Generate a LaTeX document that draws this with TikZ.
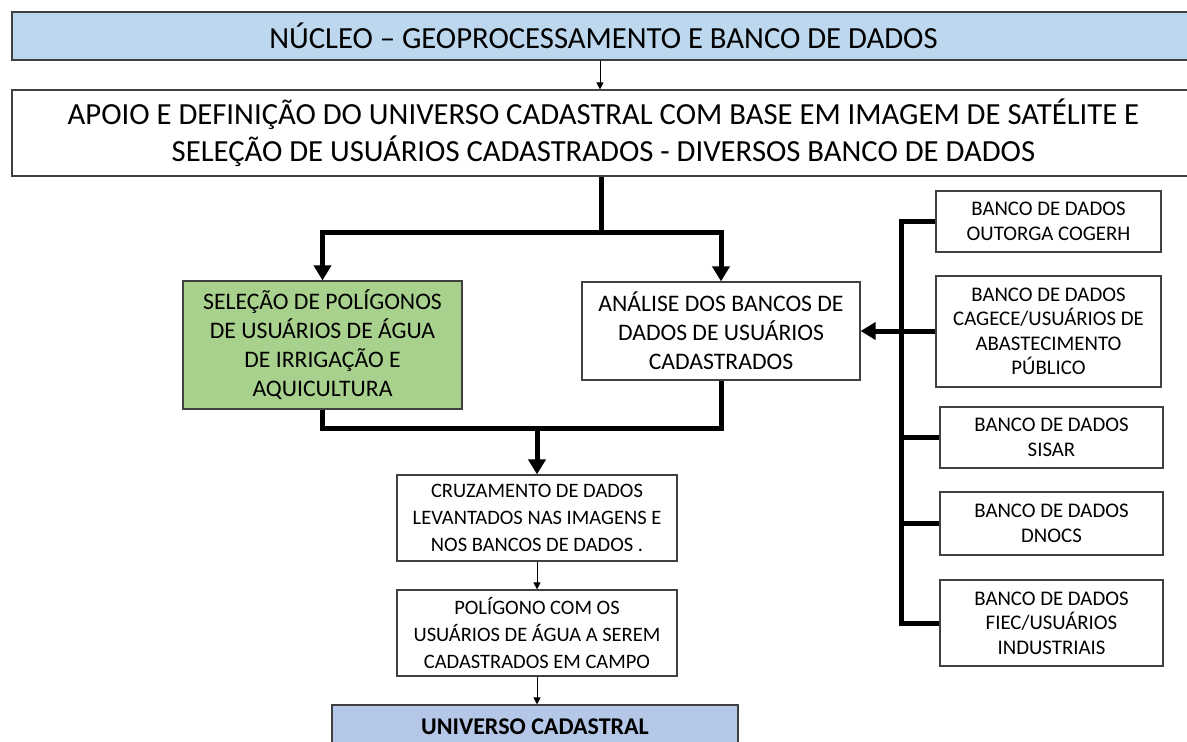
\documentclass[tikz,border=0pt]{standalone}
\usepackage{fontspec}
\setmainfont{Carlito}
\usetikzlibrary{arrows.meta,calc}
\definecolor{nucleoblue}{HTML}{BDD7EE}
\definecolor{univblue}{HTML}{B4C7E7}
\definecolor{selgreen}{HTML}{A9D18E}
\definecolor{boxline}{HTML}{404040}
\begin{document}
\begin{tikzpicture}[x=1pt,y=-1pt,
  box/.style={draw=boxline,line width=1.2pt,fill=white,align=center,inner sep=0pt},
  midtext/.style={font=\fontsize{23.7}{29}\selectfont},
  dbtext/.style={font=\fontsize{20.8}{24.5}\selectfont},
  heavy/.style={line width=5pt},
  heavyarrow/.style={line width=5pt,-{Triangle[length=15pt,width=17pt]}},
  thinarrow/.style={line width=1pt,-{Triangle[length=7pt,width=7pt]}}]
\useasboundingbox (0,0) rectangle (1187,742);
\clip (0,0) rectangle (1187,742);
% top of the flow
\node[box,fill=nucleoblue,minimum width=1183pt,minimum height=48pt,
  font=\fontsize{30.7}{34}\selectfont] (nucleo) at (603.5,36)
  {NÚCLEO – GEOPROCESSAMENTO E BANCO DE DADOS};
\node[box,minimum width=1183pt,minimum height=86pt,
  font=\fontsize{30.7}{37}\selectfont] (apoio) at (603.5,133)
  {APOIO E DEFINIÇÃO DO UNIVERSO CADASTRAL COM BASE EM IMAGEM DE SATÉLITE E\\
   SELEÇÃO DE USUÁRIOS CADASTRADOS - DIVERSOS BANCO DE DADOS};
% two branches
\node[box,midtext,fill=selgreen,minimum width=279pt,minimum height=128pt] (selecao) at (322.5,345)
  {SELEÇÃO DE POLÍGONOS\\ DE USUÁRIOS DE ÁGUA\\ DE IRRIGAÇÃO E\\ AQUICULTURA};
\node[box,midtext,minimum width=278pt,minimum height=98pt] (analise) at (721,331)
  {ANÁLISE DOS BANCOS DE\\ DADOS DE USUÁRIOS\\ CADASTRADOS};
% lower column
\node[box,font=\fontsize{20.5}{27}\selectfont,minimum width=280pt,minimum height=86pt] (cruz) at (537,518)
  {CRUZAMENTO DE DADOS\\ LEVANTADOS NAS IMAGENS E\\ NOS BANCOS DE DADOS .};
\node[box,font=\fontsize{20.5}{27}\selectfont,minimum width=280pt,minimum height=86pt] (poli) at (537,633)
  {POLÍGONO COM OS\\ USUÁRIOS DE ÁGUA A SEREM\\ CADASTRADOS EM CAMPO};
\node[box,fill=univblue,minimum width=406pt,minimum height=44pt,
  font=\fontsize{24}{28}\selectfont\bfseries] (univ) at (535,727) {UNIVERSO CADASTRAL};
% data bases on the right
\node[box,dbtext,minimum width=225pt,minimum height=61pt] (banco1) at (1048.5,221.5)
  {BANCO DE DADOS\\ OUTORGA COGERH};
\node[box,dbtext,minimum width=225pt,minimum height=111pt] (banco2) at (1048.5,331.5)
  {BANCO DE DADOS\\ CAGECE/USUÁRIOS DE\\ ABASTECIMENTO\\ PÚBLICO};
\node[box,dbtext,minimum width=223pt,minimum height=61pt] (banco3) at (1051.5,437.5)
  {BANCO DE DADOS\\ SISAR};
\node[box,dbtext,minimum width=223pt,minimum height=63pt] (banco4) at (1051.5,523.5)
  {BANCO DE DADOS\\ DNOCS};
\node[box,dbtext,minimum width=223pt,minimum height=86pt] (banco5) at (1051.5,623)
  {BANCO DE DADOS\\ FIEC/USUÁRIOS\\ INDUSTRIAIS};
\coordinate (split) at (601,232);
\coordinate (merge) at (537,428);
\coordinate (bus) at (901,331);
% connectors
\draw[thinarrow] (nucleo.south -| 600,0) -- (apoio.north -| 600,0);
\draw[heavy] (apoio.south -| split) -- (split);
\draw[heavyarrow] (split) -| (selecao.north);
\draw[heavyarrow] (split) -| (analise.north);
\draw[heavy] (selecao.south) |- (merge);
\draw[heavy] (analise.south) |- (merge);
\draw[heavyarrow] (merge) -- (cruz.north);
\draw[thinarrow] (cruz.south) -- (poli.north);
\draw[thinarrow] (poli.south) -- (poli.south |- univ.north);
\draw[heavy] (banco1.west) -- (banco1.west -| bus) -- (banco5.west -| bus) -- (banco5.west);
\foreach \b in {banco2,banco3,banco4}
  \draw[heavy] (\b.west -| bus) -- (\b.west);
\draw[heavyarrow] (analise.east -| bus) -- (analise.east);
\end{tikzpicture}
\end{document}
